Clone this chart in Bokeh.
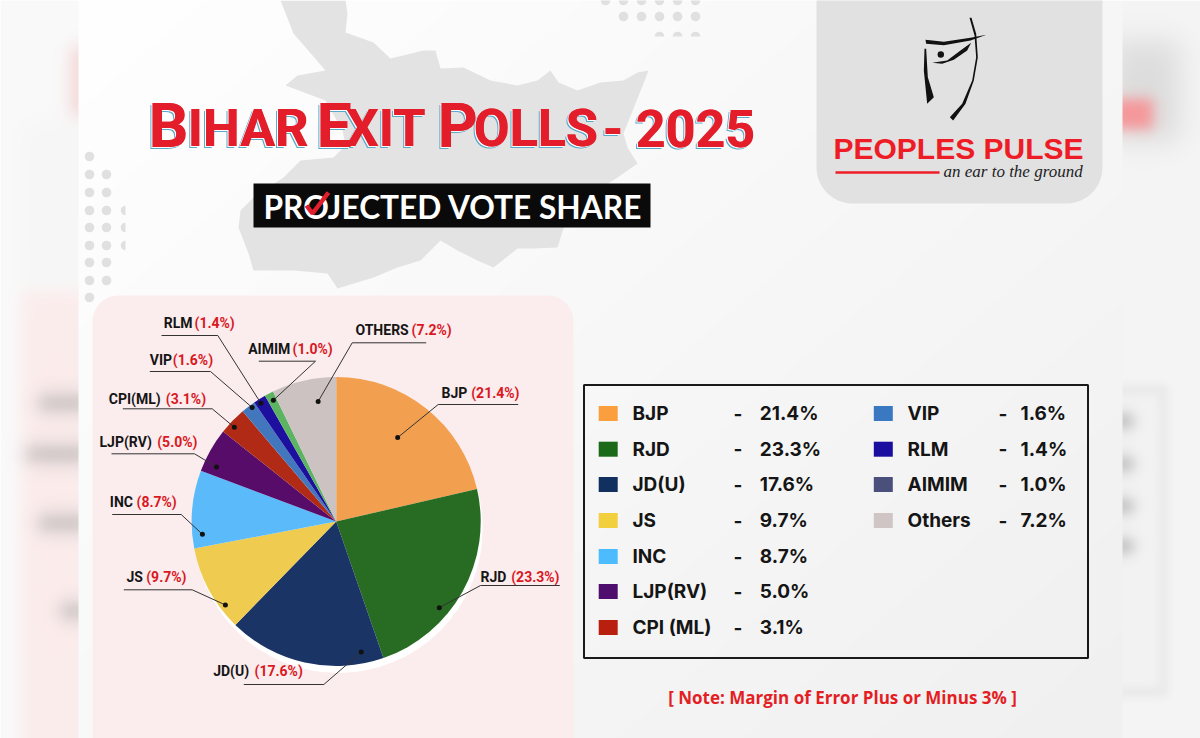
import numpy as np
from bokeh.core.properties import value
from bokeh.embed import file_html
from bokeh.models import ColumnDataSource, Range1d
from bokeh.plotting import figure
from bokeh.resources import INLINE

# vote share
parties = ["BJP", "RJD", "JD(U)", "JS", "INC", "LJP(RV)", "CPI (ML)", "VIP", "RLM", "AIMIM", "Others"]
pie_names = ["BJP", "RJD", "JD(U)", "JS", "INC", "LJP(RV)", "CPI(ML)", "VIP", "RLM", "AIMIM", "OTHERS"]
shares = [21.4, 23.3, 17.6, 9.7, 8.7, 5.0, 3.1, 1.6, 1.4, 1.0, 7.2]
pie_colors = ["#f29f50", "#276c22", "#1a3565", "#efcb50", "#5bbbfa", "#560c68",
              "#b12a16", "#4377bd", "#1e109e", "#5cb361", "#cdc2c2"]
key_colors = ["#fb9f3e", "#1a6a1a", "#12305f", "#f2cf3c", "#4cbcff", "#4f0e6e",
              "#b91f0e", "#3a78c2", "#1a0ea0", "#4b4f7c", "#cfc5c5"]

W, H = 1200, 738
CX, CY, R = 335.7, 521, 144.5
BASE_SHIFT = 0.36  # the svg text sits this many em under the asked baseline


def Y(v):
    return H - np.asarray(v, dtype=float)


p = figure(width=W, height=H, output_backend="svg", toolbar_location=None,
           x_range=Range1d(0, W), y_range=Range1d(0, H), min_border=0)
p.axis.visible = False
p.grid.visible = False
p.outline_line_color = None


def label(x, y, txt, font, size, color, style="bold", align="left"):
    p.text(x, Y(y) + BASE_SHIFT * size, text=txt, text_font=value(font), text_font_style=style,
           text_font_size="%gpx" % size, text_color=color, text_align=align, text_baseline="alphabetic")


# background, the blurred copy of the poster shows at both sides
xx, yy = np.meshgrid(np.arange(W), np.arange(H))


def sig(a):
    return 1 / (1 + np.exp(-a))


def soft(img, x0, x1, y0, y1, color, blur, alpha=1.0):
    m = sig((xx - x0) / blur) * sig((x1 - xx) / blur) * sig((yy - y0) / blur) * sig((y1 - yy) / blur) * alpha
    c = np.array([int(color[i:i + 2], 16) for i in (1, 3, 5)], dtype=float)
    return img * (1 - m[..., None]) + c * m[..., None]


bg = np.full((H, W, 3), 250.0)
bg[:, 600:] = 245
bg = soft(bg, 20, 90, 120, 290, "#f2f2f2", 8, 0.5)
bg = soft(bg, 20, 90, 290, 790, "#fcecec", 5)
bg = soft(bg, 70, 90, 45, 115, "#f3cccc", 5, 0.8)
for y0, x0 in [(402, 38), (453, 26), (522, 38), (610, 60)]:
    bg = soft(bg, x0, 90, y0 - 8, y0 + 8, "#b4b0b0", 5, 0.75)
bg = soft(bg, 1110, 1178, 40, 140, "#dcdcdc", 9)
bg = soft(bg, 1110, 1152, 98, 128, "#f79497", 4)
bg = soft(bg, 1110, 1166, 385, 695, "#e6e6e6", 3)
bg = soft(bg, 1110, 1160, 392, 688, "#f3f3f4", 3)
for y0 in [420, 463, 505, 545]:
    bg = soft(bg, 1110, 1132, y0 - 7, y0 + 7, "#b8b8b8", 4)
t = np.clip((xx - 78) / 1044 * 0.55 + yy / 738 * 0.45, 0, 1)[..., None]
panel = (xx >= 78) & (xx < 1122)
bg[panel] = (255 * (1 - t) + 240 * t).repeat(3, axis=2)[panel]
rgba = np.dstack([bg.astype(np.uint8), np.full((H, W), 255, dtype=np.uint8)])
img = rgba[::-1].copy().view(dtype=np.uint32).reshape(H, W)
p.image_rgba(image=[img], x=0, y=0, dw=W, dh=H)

# Bihar outline
map_x = [280, 345, 347, 345, 373, 390, 423, 435, 440, 463, 490, 517, 537, 550, 558, 577, 600, 623, 637, 648,
         643, 623, 627, 637, 617, 575, 563, 557, 533, 517, 493, 477, 457, 440, 420, 397, 373, 337, 327, 293,
         253, 248, 238, 240, 253, 283, 300, 333, 345, 342, 325, 285, 297, 325, 293]
map_y = [0, 0, 13, 32, 42, 58, 50, 50, 68, 67, 80, 85, 80, 70, 82, 90, 82, 80, 72, 70,
         83, 133, 147, 163, 177, 205, 228, 247, 248, 248, 267, 260, 250, 240, 260, 267, 277, 288, 273, 270,
         270, 253, 227, 210, 197, 177, 160, 157, 145, 130, 100, 85, 75, 70, 33]
p.patch(map_x, Y(map_y), fill_color="#e3e3e4", line_color=None)

# halftone dots
dot_x = [89] * 9 + [106] * 7 + [605, 623, 641, 659, 677, 695, 623, 641, 659, 677, 695]
dot_y = [156, 174, 192, 210, 227, 245, 262, 280, 297, 174, 192, 210, 227, 245, 262, 280,
         0, 0, 0, 0, 0, 0, 16, 16, 16, 16, 16]
p.circle(dot_x, Y(dot_y), radius=4.8, fill_color="#e0e0e1", line_color=None)
p.wedge([125, 125, 125], Y([210, 227, 245]), radius=4.8, start_angle=np.pi / 2, end_angle=3 * np.pi / 2,
        fill_color="#e0e0e1", line_color=None)
p.wedge([659, 677, 695], Y([36, 36, 36]), radius=4.8, start_angle=0, end_angle=np.pi,
        fill_color="#e0e0e1", line_color=None)


def rounded(x0, x1, y0, y1, r):
    a = np.linspace(0, np.pi / 2, 12)
    xs, ys = [], []
    # clockwise from top left, in picture pixels
    xs += list(x0 + r - r * np.cos(a)); ys += list(y0 + r - r * np.sin(a))
    xs += list(x1 - r + r * np.sin(a)); ys += list(y0 + r - r * np.cos(a))
    xs += list(x1 - r + r * np.cos(a)); ys += list(y1 - r + r * np.sin(a))
    xs += list(x0 + r - r * np.sin(a)); ys += list(y1 - r + r * np.cos(a))
    return xs, Y(ys)


# logo box and pie card
xs, ys = rounded(816, 1102, -60, 203, 36)
p.patch(xs, ys, fill_color="#e1e1e2", line_color=None)
xs, ys = rounded(92, 573, 295, 790, 26)
p.patch(xs, ys, fill_color="#fbeced", line_color=None)

# title, small caps made of two sizes (no condensed face here, so shorter than the poster's)
title_big = ["B", "E", "P"]
title_small = ["IHAR", "XIT", "OLLS", "-", "2025"]
big_x = np.array([148, 316, 437])
small_x = np.array([187, 345, 473, 602, 635])
for dx, dy, col in [(-2, 2, "#5aa9c9"), (-1, 1, "#ffffff"), (0.6, 0, "#e31e2a"), (0, 0, "#e31e2a")]:
    label(big_x + dx, [147 + dy] * 3, title_big, "Roboto", 62, col)
    label(small_x + dx, [147 + dy] * 5, title_small, "Roboto", 52, col)

# subtitle
p.quad(left=[253], right=[650], top=Y([183]), bottom=Y([227]), fill_color="#0a0a0a", line_color=None)
label([263], [218], ["PROJECTED VOTE SHARE"], "Lato", 31.7, "#ffffff")
p.line([306, 312, 328], Y([205, 213, 192]), line_color="#e0202c", line_width=4.5)

# logo
logo_top_x = np.array([345, 400, 480, 528, 480, 400, 347]) / 3 + 810
logo_top_y = np.array([118, 124, 112, 103, 120, 134, 130]) / 3
p.patch(logo_top_x, Y(logo_top_y), fill_color="#111111", line_color=None)
logo_right_x = np.array([477, 492, 497, 485, 455, 418, 428, 465, 490, 502, 497, 483]) / 3 + 810
logo_right_y = np.array([52, 105, 170, 240, 310, 350, 360, 310, 240, 170, 100, 52]) / 3
p.patch(logo_right_x, Y(logo_right_y), fill_color="#111111", line_color=None)
logo_left_x = np.array([342, 340, 350, 370, 352, 347]) / 3 + 810
logo_left_y = np.array([145, 210, 310, 290, 230, 145]) / 3
p.patch(logo_left_x, Y(logo_left_y), fill_color="#111111", line_color=None)
logo_sw_x = np.array([365, 410, 450, 482, 470, 430, 395]) / 3 + 810
logo_sw_y = np.array([187, 180, 150, 127, 150, 178, 190]) / 3
p.patch(logo_sw_x, Y(logo_sw_y), fill_color="#111111", line_color=None)
p.circle([940.3], Y([54]), radius=3.2, fill_color="#111111", line_color=None)
label([833], [159], ["PEOPLES PULSE"], "Liberation Sans", 30, "#ee1c25")
p.line([835, 939], Y([172, 172]), line_color="#ee1c25", line_width=2.5)
label([943], [177], ["an ear to the ground"], "Liberation Serif", 17, "#222222", style="italic")

# pie
fracs = np.array(shares) / sum(shares)
cum = np.concatenate([[0], np.cumsum(fracs)])
starts = np.pi / 2 - 2 * np.pi * cum[:-1]
ends = np.pi / 2 - 2 * np.pi * cum[1:]
p.circle([CX + 2], Y([CY + 7]), radius=R, fill_color="#ffffff", line_color=None)
pie = ColumnDataSource(dict(start=starts, end=ends, color=pie_colors))
p.wedge(x=CX, y=Y(CY), radius=R, start_angle="start", end_angle="end", direction="clock",
        fill_color="color", line_color=None, source=pie)

# leader lines start inside their slice, where in the slice is layout only
dot_pos = [.47, .63, .13, .25, .17, .22, .38, .68, .41, .59, .67]
dot_rad = [.72, .93, .92, .96, .93, .91, .96, .98, .97, .945, .84]
elbow_x = [437.7, 480, 323.3, 191.7, 180.7, 194, 211.7, 210, 217.3, 315, 351.7]
elbow_y = [404, 585, 684, 589.3, 514, 453.3, 408.3, 371, 335, 360.7, 342.3]
end_x = [517.7, 559.3, 243.3, 123.3, 111.7, 111, 122.3, 149.3, 161, 258.3, 425.7]
name_x = [441, 480, 212.7, 126, 109.3, 99, 108.3, 149.3, 163.3, 247.7, 355]
value_x = [470.7, 510.7, 254, 145.7, 136, 156.7, 165.3, 172.3, 194, 292, 411]
base_y = [397.5, 582, 676, 581.5, 507, 447, 404, 365, 328, 354, 334.5]

ang = 2 * np.pi * (cum[:-1] + np.array(dot_pos) * fracs)
dots_x = CX + R * np.array(dot_rad) * np.sin(ang)
dots_y = CY - R * np.array(dot_rad) * np.cos(ang)
p.multi_line([[a, b, c] for a, b, c in zip(dots_x, elbow_x, end_x)],
             [list(Y([a, b, b])) for a, b in zip(dots_y, elbow_y)],
             line_color="#333333", line_width=1)
p.scatter(dots_x, Y(dots_y), size=5, marker="circle", fill_color="#111111", line_color=None)
value_labels = ["(%.1f%%)" % s for s in shares]
label(name_x, base_y, pie_names, "Roboto", 14, "#151515")
label(value_x, base_y, value_labels, "Roboto", 14, "#d9181f")

# key box
p.quad(left=[583.5], right=[1087.5], top=Y([384.5]), bottom=Y([657.5]), fill_color=None,
       line_color="#1a1a1a", line_width=2)
rows = [413, 448.7, 484, 520, 556, 591, 627, 413, 448.7, 484, 520]
swatch_x = [607.7] * 7 + [882.8] * 4
label_x = [632] * 7 + [907] * 4
dash_x = [733] * 7 + [998] * 4
share_x = [759.3] * 7 + [1020] * 4
key = ColumnDataSource(dict(sx=swatch_x, lx=label_x, dx=dash_x, vx=share_x, y=Y(rows), c=key_colors, name=parties,
                            dash=["-"] * 11, val=["%.1f%%" % s for s in shares]))
p.rect(x="sx", y="y", width=19, height=15, fill_color="c", line_color=None, source=key)
for col, txt in [("lx", "name"), ("dx", "dash"), ("vx", "val")]:
    p.text(x=col, y="y", text=txt, text_font=value("Inter"), text_font_style="bold", text_font_size="19px",
           text_color="#151515", text_baseline="middle", source=key)

label([842], [703], ["[ Note: Margin of Error Plus or Minus 3% ]"], "Open Sans", 17, "#e31e24", align="center")

open("out.html", "w").write(file_html(p, INLINE))
